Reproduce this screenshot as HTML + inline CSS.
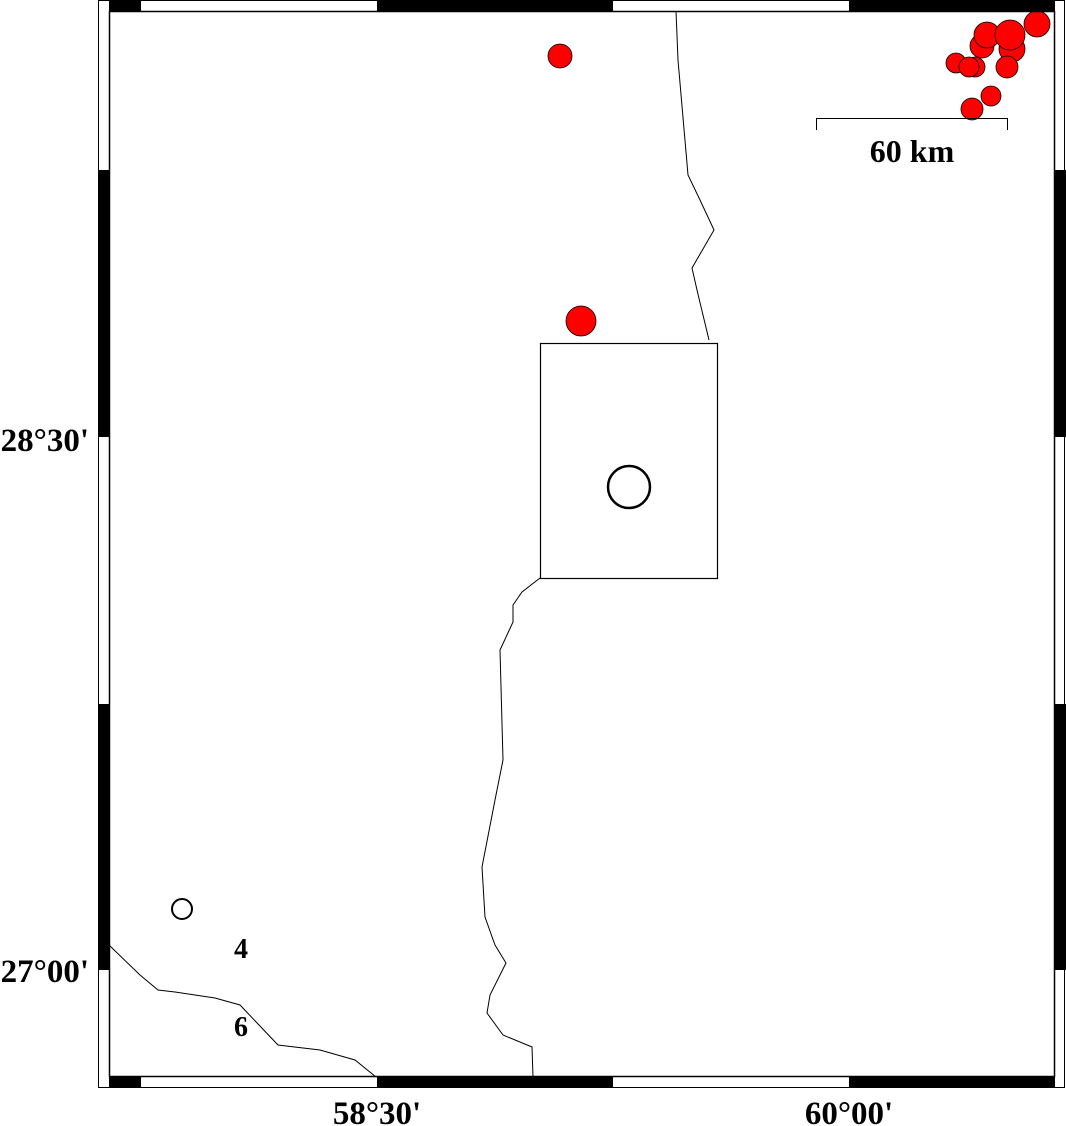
<!DOCTYPE html>
<html><head><style>html,body{margin:0;padding:0;background:#fff}svg{display:block}</style></head><body>
<svg width="1066" height="1126" xmlns="http://www.w3.org/2000/svg" font-family="Liberation Serif, serif" font-weight="bold">
<defs><clipPath id="c"><rect x="109" y="11" width="946" height="1066"/></clipPath></defs>
<g fill="none" stroke="#000" stroke-width="1">
<path d="M676,11 L678,60 L688,175 L700,200 L714,230 L692,268 L697,290 L709,340"/>
<path d="M540,578 L522,592 L513,605 L513,622 L500,650 L503,760 L495,800 L482,867 L485,917 L495,945 L506,963 L490,995 L487,1013 L503,1035 L532,1047 L533,1077"/>
<path d="M109,945 L140,975 L158,990 L175,992 L215,998 L240,1005 L278,1045 L320,1050 L355,1060 L376,1077"/>
</g>
<rect x="540.5" y="343.5" width="177" height="235" fill="none" stroke="#000" stroke-width="1.2"/>
<circle cx="629" cy="487" r="21" fill="none" stroke="#000" stroke-width="2.5"/>
<circle cx="182" cy="909" r="10" fill="none" stroke="#000" stroke-width="2"/>
<g fill="#f00" stroke="#000" stroke-width="0.8" clip-path="url(#c)">
<circle cx="560" cy="56" r="12"/>
<circle cx="581" cy="321" r="15"/>
<circle cx="1037" cy="24" r="13"/>
<circle cx="982" cy="46" r="12"/>
<circle cx="1012" cy="49" r="13"/>
<circle cx="987" cy="35" r="13"/>
<circle cx="1010" cy="35" r="15"/>
<circle cx="956" cy="63" r="10"/>
<circle cx="975" cy="67" r="10"/>
<circle cx="969" cy="67" r="10"/>
<circle cx="1007" cy="67" r="11"/>
<circle cx="991" cy="96" r="10"/>
<circle cx="972" cy="109" r="11"/>
</g>
<path d="M816.5,130 V118.5 H1007.5 V130" fill="none" stroke="#000" stroke-width="1"/>
<text x="912" y="162" font-size="32" text-anchor="middle">60 km</text>
<text x="241" y="958" font-size="28" text-anchor="middle">4</text>
<text x="241" y="1036" font-size="28" text-anchor="middle">6</text>
<rect x="98.5" y="0.5" width="966" height="1087" fill="none" stroke="#000" stroke-width="1"/>
<rect x="109.5" y="11.5" width="945" height="1065" fill="none" stroke="#000" stroke-width="1.5"/>
<g fill="#000">
<rect x="109" y="0" width="32" height="11"/><rect x="377" y="0" width="236" height="11"/><rect x="849" y="0" width="206" height="11"/>
<rect x="109" y="1077" width="32" height="11"/><rect x="377" y="1077" width="236" height="11"/><rect x="849" y="1077" width="206" height="11"/>
<rect x="98" y="170" width="11" height="267"/><rect x="98" y="704" width="11" height="266"/>
<rect x="1055" y="170" width="11" height="267"/><rect x="1055" y="704" width="11" height="266"/>
</g>
<text x="377" y="1124" font-size="33" text-anchor="middle">58°30'</text>
<text x="849" y="1124" font-size="33" text-anchor="middle">60°00'</text>
<text x="89" y="451" font-size="33" text-anchor="end">28°30'</text>
<text x="89" y="982" font-size="33" text-anchor="end">27°00'</text>
</svg>
</body></html>
